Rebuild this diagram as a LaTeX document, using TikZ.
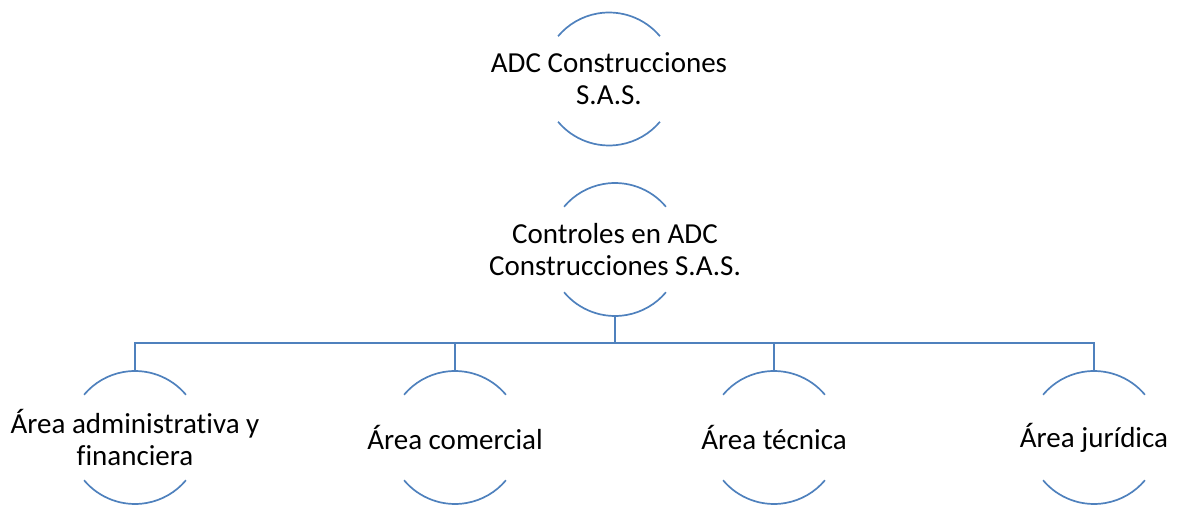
\documentclass[tikz,border=0pt]{standalone}
\usepackage{fontspec}
\setmainfont[Ligatures={NoCommon}]{Carlito}
\definecolor{lineblue}{RGB}{79,129,189}
\begin{document}
\begin{tikzpicture}[x=1pt,y=1pt,
  ring/.style={circle,minimum size=133pt,inner sep=0pt,outer sep=0pt},
  txt/.style={align=center,inner sep=0pt,font=\fontsize{29}{32}\selectfont,text=black},
  arcline/.style={draw=lineblue,line width=1.7pt},
  conn/.style={draw=lineblue,line width=1.7pt}]
\useasboundingbox (0,0) rectangle (1182,506);
\node[ring] (r1) at (609,427) {};
\node[ring] (r2) at (615,256.5) {};
\node[ring] (r3) at (135,68.5) {};
\node[ring] (r4) at (455,68.5) {};
\node[ring] (r5) at (774,68.5) {};
\node[ring] (r6) at (1094,68.5) {};
\foreach \r in {r1,r2,r3,r4,r5,r6}{
  \draw[arcline] (\r.40) arc[start angle=40,end angle=140,radius=66.5pt];
  \draw[arcline] (\r.220) arc[start angle=220,end angle=320,radius=66.5pt];
}
\node[txt] (t1) at (r1) {ADC Construcciones\\S.A.S.};
\node[txt] (t2) at (r2) {Controles en ADC\\Construcciones S.A.S.};
\node[txt] (t3) at (r3) {Área administrativa y\\financiera};
\node[txt] (t4) at (r4) {Área comercial};
\node[txt] (t5) at (r5) {Área técnica};
\node[txt] (t6) at (r6) {Área jurídica};
\coordinate (bar) at (615,163);
\draw[conn] (r2.south) -- (bar);
\draw[conn] (bar) -| (r3.north);
\draw[conn] (bar) -| (r4.north);
\draw[conn] (bar) -| (r5.north);
\draw[conn] (bar) -| (r6.north);
\end{tikzpicture}
\end{document}
